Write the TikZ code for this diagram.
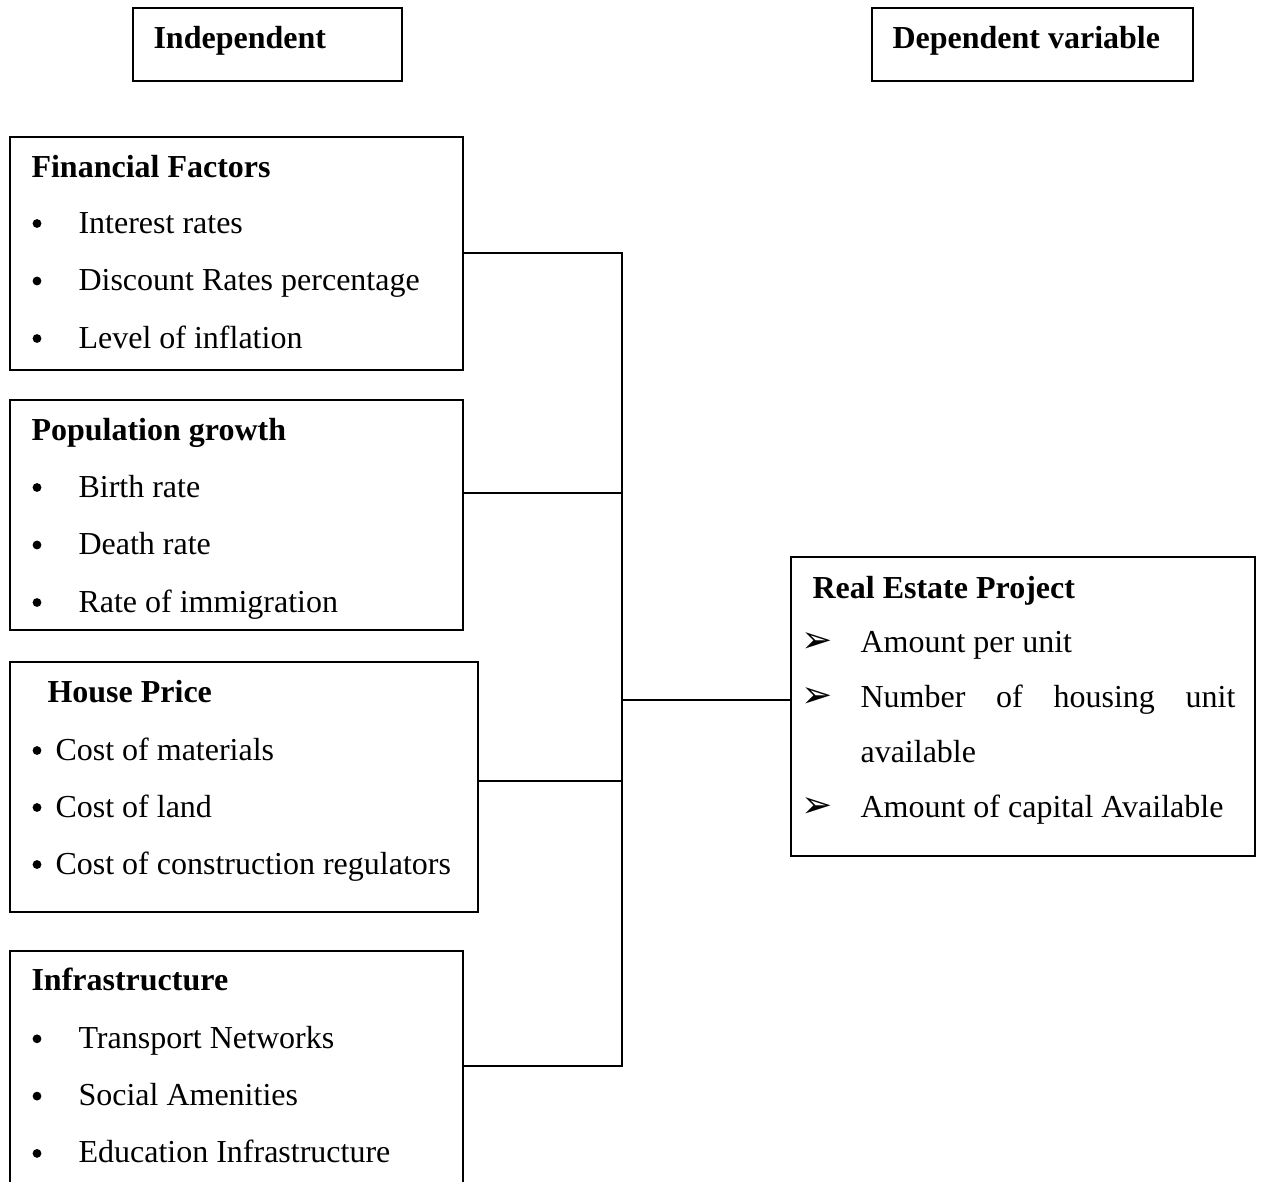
\documentclass[tikz,border=0pt]{standalone}
\usepackage{fontspec}
\setmainfont{Liberation Serif}
\newfontfamily\dingfont{DejaVu Sans}
\usetikzlibrary{fit}

\tikzset{
  box/.style={draw, line width=0.75pt, inner sep=0pt},
  head/.style={anchor=base west, inner sep=0pt, font=\fontsize{12pt}{14pt}\selectfont\bfseries},
  item/.style={anchor=base west, inner sep=0pt},
  dot/.style={circle, fill, inner sep=0pt, minimum size=3.3pt},
  link/.style={line width=0.6pt}
}

\begin{document}
\begin{tikzpicture}[x=0.375pt,y=-0.375pt,font=\fontsize{12pt}{14pt}\selectfont]
\clip (0,0) rectangle (1262,1181);

% title boxes
\node[box,fit={(133,8) (402,81)}] (ind) {};
\node[box,fit={(872,8) (1193,81)}] (dep) {};
\node[head] (ind-t) at (153,48) {Independent};
\node[head] (dep-t) at (892,48) {Dependent variable};

% independent variables
\node[box,fit={(10,137) (463,370)}] (ff) {};
\node[head] (ff-h) at (31,177) {Financial Factors};
\foreach \txt [count=\i] in {Interest rates,Discount Rates percentage,Level of inflation}{
  \node[dot] (ff-d\i) at (37,166+57.5*\i) {};
  \node[item] (ff-\i) at (78,175.5+57.5*\i) {\txt};
}

\node[box,fit={(10,400) (463,630)}] (pg) {};
\node[head] (pg-h) at (31,440) {Population growth};
\foreach \txt [count=\i] in {Birth rate,Death rate,Rate of immigration}{
  \node[dot] (pg-d\i) at (37,430+57.5*\i) {};
  \node[item] (pg-\i) at (78,439.5+57.5*\i) {\txt};
}

\node[box,fit={(10,662) (478,912)}] (hp) {};
\node[head] (hp-h) at (47,702) {House Price};
\foreach \txt [count=\i] in {Cost of materials,Cost of land,Cost of construction regulators}{
  \node[dot] (hp-d\i) at (37,693.5+57*\i) {};
  \node[item] (hp-\i) at (55,703+57*\i) {\txt};
}

\node[box,fit={(10,951) (463,1200)}] (inf) {};
\node[head] (inf-h) at (31,990) {Infrastructure};
\foreach \txt [count=\i] in {Transport Networks,Social Amenities,Education Infrastructure}{
  \node[dot] (inf-d\i) at (37,981.5+57.3*\i) {};
  \node[item] (inf-\i) at (78,991+57.3*\i) {\txt};
}

% dependent variable
\node[box,fit={(791,557) (1255,856)}] (re) {};
\node[head] (re-h) at (812,598) {Real Estate Project};
\foreach \y [count=\i] in {652,707,817}{
  \node[item] (re-a\i) at (801,\y) {\dingfont\fontsize{14pt}{16pt}\selectfont ➢};
}
\node[item] (re-1) at (860,652) {Amount per unit};
\node[item] (re-2) at (860,707) {\makebox[140.6pt][s]{Number of housing unit}};
\node[item] (re-3) at (860,762) {available};
\node[item] (re-4) at (860,817) {Amount of capital Available};

% connectors
\coordinate (j1) at (622,253);
\coordinate (j2) at (622,493);
\coordinate (j3) at (622,781);
\coordinate (j4) at (622,1066);
\coordinate (j0) at (622,700);
\draw[link] (ff.east |- j1) -- (j1) -- (j4) -- (inf.east |- j4);
\draw[link] (pg.east |- j2) -- (j2);
\draw[link] (hp.east |- j3) -- (j3);
\draw[link] (j0) -- (re.west |- j0);
\end{tikzpicture}
\end{document}
